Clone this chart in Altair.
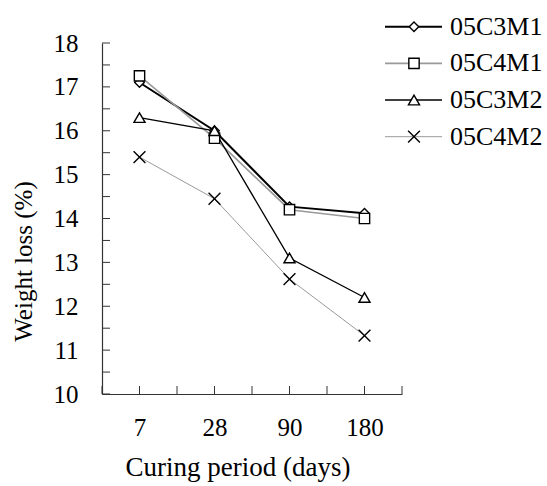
import altair as alt
import pandas as pd

days = ["7", "28", "90", "180"]
series = ["05C3M1", "05C4M1", "05C3M2", "05C4M2"]
v_05C3M1 = [17.1, 16.0, 14.27, 14.12]
v_05C4M1 = [17.25, 15.83, 14.2, 14.0]
v_05C3M2 = [16.3, 16.0, 13.1, 12.2]
v_05C4M2 = [15.4, 14.45, 12.62, 11.33]
values = [v_05C3M1, v_05C4M1, v_05C3M2, v_05C4M2]

y_tick_values = [10, 10.5, 11, 11.5, 12, 12.5, 13, 13.5, 14, 14.5, 15, 15.5, 16, 16.5, 17, 17.5, 18]
y_label_values = [10, 11, 12, 13, 14, 15, 16, 17, 18]
x_tick_values = [-0.5, 0, 0.5, 1, 1.5, 2, 2.5, 3, 3.5]

line_colors = ["#000000", "#9a9a9a", "#000000", "#9a9a9a"]
line_widths = [2, 1, 2, 1]
shapes = ["diamond", "square", "triangle-up", "M-1,-1L1,1M-1,1L1,-1"]
sizes = [90, 140, 150, 90]

FONT = "Liberation Serif"
FS = 25

rows = []
for s, vals in zip(series, values):
    for i, (d, v) in enumerate(zip(days, vals)):
        rows.append({"series": s, "day": d, "idx": i, "value": v})
df = pd.DataFrame(rows)

xscale = alt.Scale(domain=[-0.5, 3.5], nice=False, zero=False)
yscale = alt.Scale(domain=[10, 18], nice=False, zero=False)
cscale = alt.Scale(domain=series, range=line_colors)
wscale = alt.Scale(domain=series, range=line_widths)
sscale = alt.Scale(domain=series, range=shapes)
zscale = alt.Scale(domain=series, range=sizes)

label_expr = "[" + ",".join("'%s'" % d for d in days) + "][datum.value]"

x_axis = alt.Axis(values=[0, 1, 2, 3], labelExpr=label_expr, tickSize=0,
                  labelPadding=21, labelFont=FONT, labelFontSize=FS, labelColor="black",
                  domainColor="#333333", domainWidth=1.2, grid=False,
                  title="Curing period (days)", titleFont=FONT, titleFontSize=27,
                  titleFontWeight="normal", titleColor="black", titlePadding=14,
                  titleX=135.5, titleAlign="center")
y_axis = alt.Axis(values=y_label_values, tickSize=0, labelPadding=24,
                  labelFont=FONT, labelFontSize=FS, labelColor="black",
                  domainColor="#333333", domainWidth=1.2, grid=False,
                  title="Weight loss (%)", titleFont=FONT, titleFontSize=FS,
                  titleFontWeight="normal", titleColor="black",
                  titleX=-79, titleY=218, titleAlign="center", titleBaseline="middle")

X = lambda: alt.X("idx:Q", scale=xscale, axis=x_axis)
Y = lambda: alt.Y("value:Q", scale=yscale, axis=y_axis)

lines = alt.Chart(df).mark_line().encode(
    x=X(), y=Y(),
    color=alt.Color("series:N", scale=cscale, legend=None),
    strokeWidth=alt.StrokeWidth("series:N", scale=wscale, legend=None),
)

points = alt.Chart(df).mark_point(filled=True, fill="white", stroke="black",
                                  strokeWidth=1.4, opacity=1).encode(
    x=X(), y=Y(),
    shape=alt.Shape("series:N", scale=sscale, legend=None),
    size=alt.Size("series:N", scale=zscale, legend=None),
)

ytick_df = pd.DataFrame({"value": y_tick_values})
yticks = alt.Chart(ytick_df).mark_rule(color="#333333", strokeWidth=1).encode(
    y=Y(), x=alt.value(0), x2=alt.value(8),
)
xtick_df = pd.DataFrame({"idx": x_tick_values})
xticks = alt.Chart(xtick_df).mark_rule(color="#333333", strokeWidth=1).encode(
    x=X(), y=alt.value(351), y2=alt.value(343),
)

main = alt.layer(lines, points, yticks, xticks)

leg_df = pd.DataFrame({"series": series})
leg_y = alt.Y("series:N", scale=alt.Scale(type="point", domain=series, range=[-16.3, 93.7], padding=0), axis=None)
leg_lines = alt.Chart(leg_df).mark_rule().encode(
    y=leg_y, x=alt.value(283), x2=alt.value(340),
    color=alt.Color("series:N", scale=cscale, legend=None),
    strokeWidth=alt.StrokeWidth("series:N", scale=wscale, legend=None),
)
leg_points = alt.Chart(leg_df).mark_point(filled=True, fill="white", stroke="black",
                                          strokeWidth=1.4, opacity=1).encode(
    y=leg_y, x=alt.value(312),
    shape=alt.Shape("series:N", scale=sscale, legend=None),
    size=alt.Size("series:N", scale=zscale, legend=None),
)
leg_text = alt.Chart(leg_df).mark_text(align="left", baseline="middle", font=FONT,
                                       fontSize=26, color="black").encode(
    y=leg_y, x=alt.value(348), text="series:N",
)
legend = alt.layer(leg_lines, leg_points, leg_text)

chart = alt.layer(main, legend).resolve_scale(y="independent").properties(
    width=300, height=351,
    autosize=alt.AutoSizeParams(type="none"),
    padding={"left": 102, "top": 43, "right": 145, "bottom": 92},
    background="white",
).configure_view(stroke=None)

chart.save("out.html", embed_options={"renderer": "svg", "actions": False})
